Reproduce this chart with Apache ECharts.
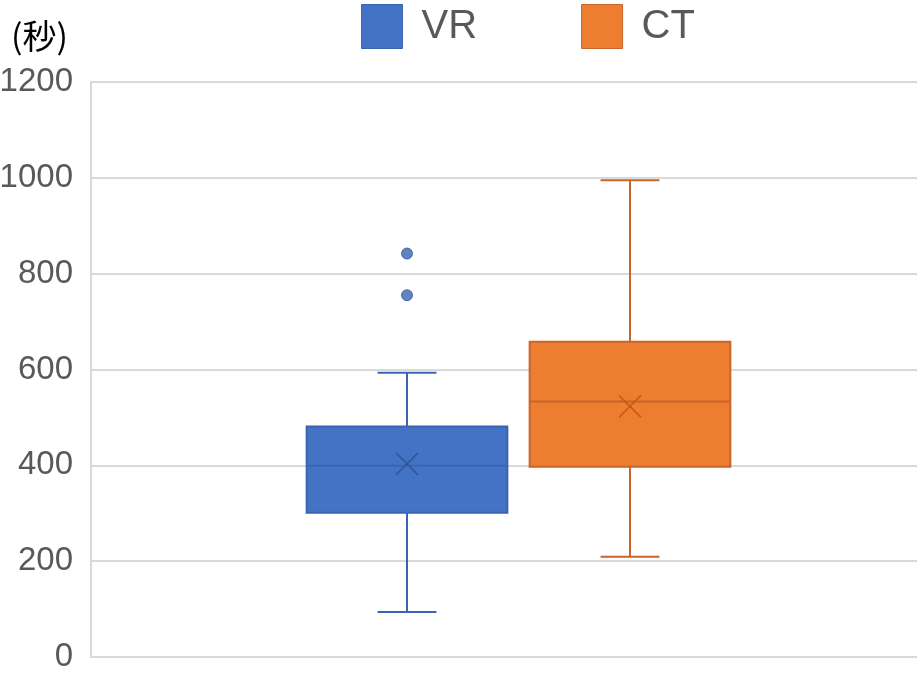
<!DOCTYPE html>
<html>
<head>
<meta charset="utf-8">
<script src="https://cdn.jsdelivr.net/npm/echarts@6/dist/echarts.min.js"></script>
<style>
  html, body { margin: 0; padding: 0; background: #fff; }
  #chart { width: 917px; height: 676px; }
</style>
</head>
<body>
<div id="chart"></div>
<script>
// data (seconds)
var groups = ['VR', 'CT'];
var boxMin = [94, 209];
var boxQ1 = [301, 397];
var boxMedian = [399, 533];
var boxQ3 = [481, 658];
var boxMax = [593, 995];
var boxMean = [403, 523];
var vrOutliers = [842, 755];

var yMin = 0, yMax = 1200, yStep = 200;

var fills = ['#4472c4', '#ed7d31'];
var lines = ['#3a64b2', '#c8652a'];
var marks = ['#2f5597', '#c55a11'];
var labelFont = "'Liberation Sans', sans-serif";

function renderBox(params, api) {
    var i = params.seriesIndex;
    var x = api.value(0);
    var band = api.size([1, 0])[0];
    var half = band * 0.45;
    var cap = band * 0.132;
    var pMin = api.coord([x, api.value(1)]);
    var pQ1 = api.coord([x, api.value(2)]);
    var pMed = api.coord([x, api.value(3)]);
    var pQ3 = api.coord([x, api.value(4)]);
    var pMax = api.coord([x, api.value(5)]);
    var pMean = api.coord([x, api.value(6)]);
    var cx = pMed[0];
    var ln = {stroke: lines[i], lineWidth: 2};
    var xs = 11;
    return {
        type: 'group',
        children: [
            {type: 'line', shape: {x1: cx, y1: pMin[1], x2: cx, y2: pQ1[1]}, style: ln},
            {type: 'line', shape: {x1: cx, y1: pQ3[1], x2: cx, y2: pMax[1]}, style: ln},
            {type: 'line', shape: {x1: cx - cap, y1: pMin[1], x2: cx + cap, y2: pMin[1]}, style: ln},
            {type: 'line', shape: {x1: cx - cap, y1: pMax[1], x2: cx + cap, y2: pMax[1]}, style: ln},
            {
                type: 'rect',
                shape: {x: cx - half, y: pQ3[1], width: half * 2, height: pQ1[1] - pQ3[1]},
                style: {fill: fills[i], stroke: lines[i], lineWidth: 2}
            },
            {type: 'line', shape: {x1: cx - half, y1: pMed[1], x2: cx + half, y2: pMed[1]}, style: ln},
            {type: 'line', shape: {x1: cx - xs, y1: pMean[1] - xs, x2: cx + xs, y2: pMean[1] + xs}, style: {stroke: marks[i], lineWidth: 1.5}},
            {type: 'line', shape: {x1: cx - xs, y1: pMean[1] + xs, x2: cx + xs, y2: pMean[1] - xs}, style: {stroke: marks[i], lineWidth: 1.5}}
        ]
    };
}

function boxData(i) {
    return [[i, boxMin[i], boxQ1[i], boxMedian[i], boxQ3[i], boxMax[i], boxMean[i]]];
}

var chart = echarts.init(document.getElementById('chart'));
var option = {
    animation: false,
    backgroundColor: '#fff',
    title: {
        text: '(秒)',
        left: 6,
        top: 14,
        textStyle: {fontSize: 34, fontWeight: 'normal', color: '#000', fontFamily: "'Noto Sans CJK JP', sans-serif"}
    },
    legend: {
        left: 361,
        top: 4,
        padding: 0,
        icon: 'rect',
        itemWidth: 41,
        itemHeight: 44,
        itemGap: 104,
        selectedMode: false,
        textStyle: {fontSize: 40, color: '#595959', fontFamily: labelFont, padding: [0, 0, 0, 14]},
        data: [
            {name: 'VR', itemStyle: {color: fills[0], borderColor: lines[0], borderWidth: 1}},
            {name: 'CT', itemStyle: {color: fills[1], borderColor: lines[1], borderWidth: 1}}
        ]
    },
    grid: [
        {left: 91, right: 0, top: 82, bottom: 19, outerBoundsMode: 'none', containLabel: false},
        {left: 295.5, width: 446, top: 82, bottom: 19, outerBoundsMode: 'none', containLabel: false}
    ],
    xAxis: [
        {
            gridIndex: 0, type: 'category', data: [''],
            axisLine: {lineStyle: {color: '#d9d9d9', width: 2}},
            axisTick: {show: false}, axisLabel: {show: false}
        },
        {
            gridIndex: 1, type: 'category', data: groups,
            axisLine: {show: false}, axisTick: {show: false}, axisLabel: {show: false}, splitLine: {show: false}
        }
    ],
    yAxis: [
        {
            gridIndex: 0, type: 'value', min: yMin, max: yMax, interval: yStep,
            axisLine: {show: true, lineStyle: {color: '#d9d9d9', width: 2}},
            axisTick: {show: false},
            axisLabel: {
                color: '#595959', fontSize: 33, fontFamily: labelFont, margin: 18,
                formatter: function (v) { return String(v); }
            },
            splitLine: {lineStyle: {color: '#d9d9d9', width: 2}}
        },
        {
            gridIndex: 1, type: 'value', min: yMin, max: yMax, interval: yStep,
            axisLine: {show: false}, axisTick: {show: false}, axisLabel: {show: false}, splitLine: {show: false}
        }
    ],
    series: [
        {
            name: 'VR', type: 'custom', xAxisIndex: 1, yAxisIndex: 1,
            renderItem: renderBox, data: boxData(0),
            encode: {x: 0, y: [1, 2, 3, 4, 5, 6]}
        },
        {
            name: 'CT', type: 'custom', xAxisIndex: 1, yAxisIndex: 1,
            renderItem: renderBox, data: boxData(1),
            encode: {x: 0, y: [1, 2, 3, 4, 5, 6]}
        },
        {
            name: 'VR outliers', type: 'scatter', xAxisIndex: 1, yAxisIndex: 1,
            symbol: 'circle', symbolSize: 11,
            itemStyle: {color: '#3a64b2', borderColor: '#2f5597', borderWidth: 1},
            data: vrOutliers.map(function (v) { return ['VR', v]; })
        }
    ]
};
chart.setOption(option);
</script>
</body>
</html>
